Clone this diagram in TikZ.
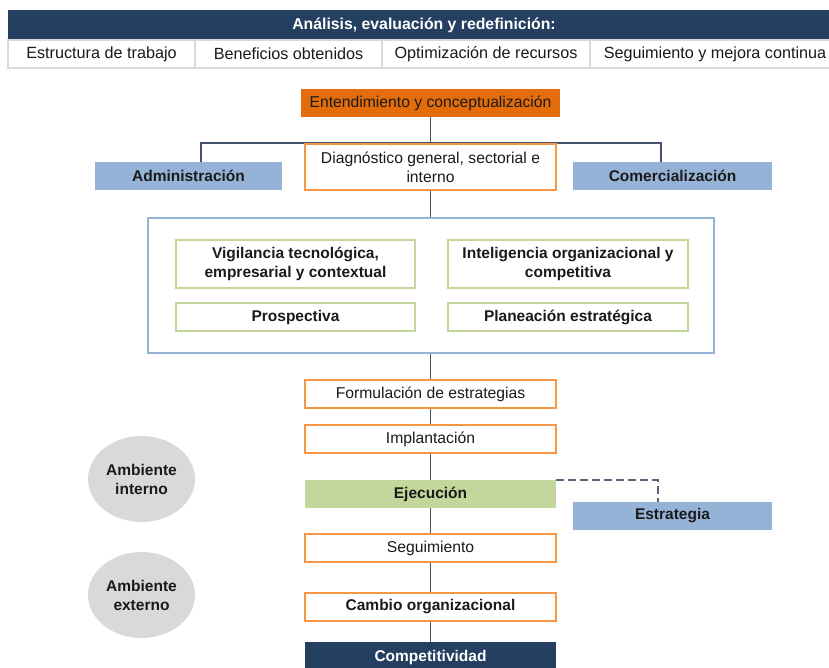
\documentclass[tikz,border=0pt]{standalone}
\usepackage{fontspec}
\setmainfont{Liberation Sans}
\usetikzlibrary{shapes.geometric,backgrounds}
\definecolor{navy}{HTML}{243F60}
\definecolor{orfill}{HTML}{E46C0A}
\definecolor{orline}{HTML}{F79646}
\definecolor{bluef}{HTML}{95B3D7}
\definecolor{greenf}{HTML}{C3D69B}
\definecolor{circf}{HTML}{D9D9D9}
\definecolor{connc}{HTML}{44546A}
\definecolor{txt}{HTML}{1A1A1A}
\definecolor{gridg}{HTML}{D9D9D9}
\begin{document}
\begin{tikzpicture}[x=1pt,y=-1pt,
  font=\fontsize{15.7}{19}\selectfont,
  base/.style={rectangle, inner sep=0pt, align=center, text=txt},
  obox/.style={base, draw=orline, line width=1.5pt, fill=white},
  gbox/.style={base, draw=greenf, line width=2pt, fill=white, font=\fontsize{15.5}{19}\selectfont\bfseries},
  bbox/.style={base, fill=bluef, font=\fontsize{15.5}{19}\selectfont\bfseries},
  cell/.style={base, draw=gridg, line width=1.5pt, fill=white, minimum height=28pt, font=\fontsize{16.2}{19}\selectfont},
  conn/.style={draw=connc, line width=1.6pt},
  dconn/.style={draw=connc!90, line width=1.6pt, dash pattern=on 8pt off 4pt},
  amb/.style={ellipse, fill=circf, inner sep=0pt, minimum width=107pt, minimum height=86pt, align=center, text=txt, font=\fontsize{15.5}{19}\selectfont\bfseries}
]
\useasboundingbox (0,0) rectangle (829,667);
% header
\node[base, fill=navy, minimum width=832pt, minimum height=30pt, text=white, font=\fontsize{15.8}{19}\selectfont\bfseries] (head) at (424,25) {Análisis, evaluación y redefinición:};
\node[cell, minimum width=187pt] (c1) at (101.5,54) {Estructura de trabajo};
\node[cell, minimum width=187pt] (c2) at (288.5,54) {Beneficios obtenidos};
\node[cell, minimum width=208pt] (c3) at (486,54) {Optimización de recursos};
\node[cell, minimum width=250pt] (c4) at (715,54) {Seguimiento y mejora continua};

% top part
\node[base, fill=orfill, minimum width=259pt, minimum height=28pt] (ent) at (430.5,103) {Entendimiento y conceptualización};
\node[obox, minimum width=251pt, minimum height=46pt] (diag) at (430.5,167) {Diagnóstico general, sectorial e\\interno};
\node[bbox, minimum width=187pt, minimum height=28pt] (adm) at (188.5,176) {Administración};
\node[bbox, minimum width=199pt, minimum height=28pt] (com) at (672.5,176) {Comercialización};

% big box
\node[base, draw=bluef, line width=2pt, fill=white, minimum width=566pt, minimum height=135pt] (big) at (430.5,285.5) {};
\node[gbox, minimum width=239pt, minimum height=48pt] (vig) at (295.5,264) {Vigilancia tecnológica,\\empresarial y contextual};
\node[gbox, minimum width=240pt, minimum height=48pt] (intel) at (568,264) {Inteligencia organizacional y\\competitiva};
\node[gbox, minimum width=239pt, minimum height=28pt] (pros) at (295.5,317) {Prospectiva};
\node[gbox, minimum width=240pt, minimum height=28pt] (plan) at (568,317) {Planeación estratégica};

% chain
\node[obox, minimum width=251pt, minimum height=28pt] (form) at (430.5,394) {Formulación de estrategias};
\node[obox, minimum width=251pt, minimum height=28pt] (impl) at (430.5,439) {Implantación};
\node[base, fill=greenf, minimum width=251pt, minimum height=28pt, font=\fontsize{15.5}{19}\selectfont\bfseries] (ejec) at (430.5,494) {Ejecución};
\node[bbox, minimum width=199pt, minimum height=28pt] (estr) at (672.5,516) {Estrategia};
\node[obox, minimum width=251pt, minimum height=28pt] (seg) at (430.5,548) {Seguimiento};
\node[obox, minimum width=251pt, minimum height=28pt, font=\fontsize{15.5}{19}\selectfont\bfseries] (cambio) at (430.5,607) {Cambio organizacional};
\node[base, fill=navy, minimum width=251pt, minimum height=30pt, text=white, font=\fontsize{15.5}{19}\selectfont\bfseries] (comp) at (430.5,657) {Competitividad};

% ambient circles
\node[amb] (amb1) at (141.5,479) {Ambiente\\interno};
\node[amb] (amb2) at (141.5,595) {Ambiente\\externo};

\begin{pgfonlayer}{background}
\draw[conn] (ent.south) -- (diag.north);
\draw[conn] ([xshift=12.5pt]adm.north) |- (diag.north) -| ([xshift=-11.5pt]com.north);
\draw[conn] (diag.south) -- (big.north);
\draw[conn] (big.south) -- (form.north);
\draw[conn] (form.south) -- (impl.north);
\draw[conn] (impl.south) -- (ejec.north);
\draw[conn] (ejec.south) -- (seg.north);
\draw[conn] (seg.south) -- (cambio.north);
\draw[conn] (cambio.south) -- (comp.north);
\draw[dconn] (ejec.north east) -| ([xshift=-14.5pt]estr.north);
\end{pgfonlayer}
\end{tikzpicture}
\end{document}
